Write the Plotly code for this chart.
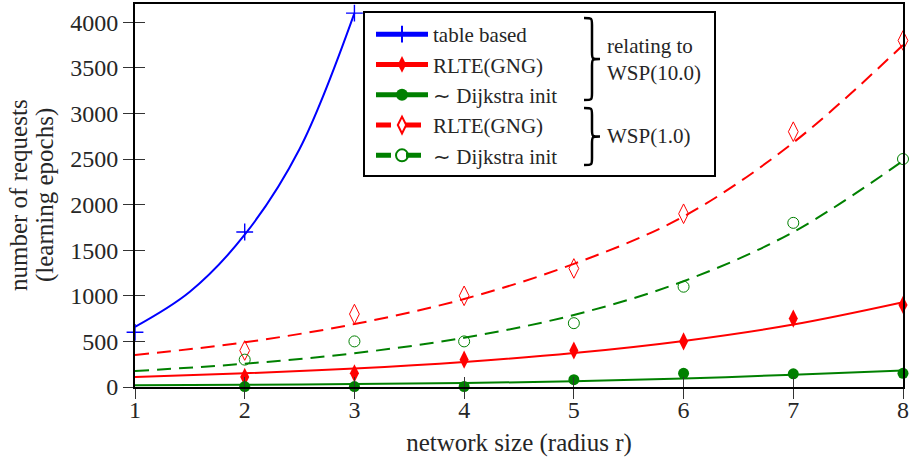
import plotly.graph_objects as go

# ---------------- data ----------------
x_table = [1, 2, 3]
table_based = [600, 1700, 4100]
x_table_fit = [1, 1.5, 2, 2.5, 3]
table_fit = [660, 1045, 1670, 2610, 4100]

x_meas = [2, 3, 4, 5, 6, 7, 8]
rlte_10 = [110, 150, 300, 400, 500, 750, 900]
dijk_10 = [5, 5, 5, 80, 150, 145, 150]
rlte_1 = [400, 800, 1000, 1300, 1900, 2800, 3800]
dijk_1 = [300, 500, 500, 700, 1100, 1800, 2500]

x_fit = [1, 2, 3, 4, 5, 6, 7, 8]
rlte_10_fit = [110, 150, 203, 275, 372, 505, 685, 930]
dijk_10_fit = [18, 24, 32, 44, 62, 92, 135, 180]
rlte_1_fit = [350, 490, 690, 965, 1350, 1870, 2680, 3750]
dijk_1_fit = [175, 255, 370, 540, 790, 1160, 1700, 2480]

x_ticks = [1, 2, 3, 4, 5, 6, 7, 8]
y_ticks = [0, 500, 1000, 1500, 2000, 2500, 3000, 3500, 4000]

legend_names = ["table based", "RLTE(GNG)", "∼ Dijkstra init", "RLTE(GNG)", "∼ Dijkstra init"]

# ---------------- style ----------------
FONT = "Liberation Serif"
TXT = "#262626"
BLUE, RED, GREEN = "#0000ff", "#ff0000", "#008000"
W, H = 914, 461
L, R, T, B = 135, 11, 4, 74
PW, PH = W - L - R, H - T - B


def px2paper(px, py):
    return (px - L) / PW, (H - B - py) / PH


fig = go.Figure()

# fitted curves
fit_specs = [
    (x_table_fit, table_fit, BLUE, "solid"),
    (x_fit, rlte_10_fit, RED, "solid"),
    (x_fit, dijk_10_fit, GREEN, "solid"),
    (x_fit, rlte_1_fit, RED, "14px,8px"),
    (x_fit, dijk_1_fit, GREEN, "14px,8px"),
]
for xs, ys, c, d in fit_specs:
    fig.add_trace(go.Scatter(x=xs, y=ys, mode="lines", showlegend=False, hoverinfo="skip",
                             line=dict(color=c, width=2, dash=d, shape="spline", smoothing=1)))

# measured points
mk_specs = [
    (x_table, table_based, dict(symbol="cross-thin-open", size=12, color=BLUE, line=dict(color=BLUE, width=1.4))),
    (x_meas, rlte_10, dict(symbol="diamond-tall", size=13, color=RED, line=dict(width=0))),
    (x_meas, dijk_10, dict(symbol="circle", size=11, color=GREEN, line=dict(width=0))),
    (x_meas, rlte_1, dict(symbol="diamond-tall-open", size=14, color=RED, line=dict(color=RED, width=1))),
    (x_meas, dijk_1, dict(symbol="circle-open", size=11, color=GREEN, line=dict(color=GREEN, width=1))),
]
for xs, ys, m in mk_specs:
    fig.add_trace(go.Scatter(x=xs, y=ys, mode="markers", marker=m, showlegend=False, cliponaxis=False))

# legend entries
dashes = ["solid", "solid", "solid", "dash", "dash"]
colors = [BLUE, RED, GREEN, RED, GREEN]
for i, (name, c, d) in enumerate(zip(legend_names, colors, dashes)):
    fig.add_trace(go.Scatter(x=[None], y=[None], mode="lines+markers", name=name,
                             legendgroup=f"g{i}",
                             line=dict(color=c, width=2, dash=d),
                             marker=mk_specs[i][2]))

# helper axes for inner half of the ticks
fig.add_trace(go.Scatter(x=[], y=[], xaxis="x2", yaxis="y2", showlegend=False))

axis_common = dict(showgrid=False, zeroline=False, color=TXT,
                   tickfont=dict(family=FONT, size=24, color=TXT))

fig.update_layout(
    width=W, height=H,
    margin=dict(l=L, r=R, t=T, b=B, autoexpand=False),
    paper_bgcolor="white", plot_bgcolor="white",
    font=dict(family=FONT, color=TXT),
    xaxis=dict(range=[1, 8], tickvals=x_ticks, ticks="outside", ticklen=10, tickwidth=1.4,
               tickcolor="#333", showline=True, linewidth=2, linecolor="black", mirror=True,
               ticklabelstandoff=-10,
               title=dict(text="network size (radius r)", font=dict(family=FONT, size=25, color=TXT),
                          standoff=12),
               **axis_common),
    yaxis=dict(range=[0, 4200], tickvals=y_ticks, ticks="outside", ticklen=10, tickwidth=1.4,
               tickcolor="#333", showline=True, linewidth=2, linecolor="black", mirror=True,
               **axis_common),
    xaxis2=dict(range=[1, 8], tickvals=x_ticks, ticks="inside", ticklen=10, tickwidth=1.4,
                tickcolor="#333", showticklabels=False, overlaying="x", anchor="y", side="bottom",
                showgrid=False, zeroline=False, showline=False),
    yaxis2=dict(range=[0, 4200], tickvals=y_ticks, ticks="inside", ticklen=10, tickwidth=1.4,
                tickcolor="#333", showticklabels=False, overlaying="y", anchor="x", side="left",
                showgrid=False, zeroline=False, showline=False),
    showlegend=True,
    legend=dict(x=px2paper(371, 0)[0], y=px2paper(0, 14)[1], xanchor="left", yanchor="top",
                bgcolor="rgba(0,0,0,0)", borderwidth=0, tracegroupgap=0,
                font=dict(family=FONT, size=21, color=TXT), itemwidth=52, itemsizing="constant"),
)

# legend frame
x0, y0 = px2paper(364, 176)
x1, y1 = px2paper(715, 12)
fig.add_shape(type="rect", xref="paper", yref="paper", x0=x0, y0=y0, x1=x1, y1=y1,
              line=dict(color="black", width=2), fillcolor="white", layer="below")


def brace(px, top, bot, w):
    mid = (top + bot) / 2
    r = 7
    xm = px + w / 2
    path = (f"M {px},{top} C {xm},{top} {xm},{top} {xm},{top + r} "
            f"L {xm},{mid - r} C {xm},{mid} {xm},{mid} {px + w},{mid} "
            f"C {xm},{mid} {xm},{mid} {xm},{mid + r} "
            f"L {xm},{bot - r} C {xm},{bot} {xm},{bot} {px},{bot}")
    out = []
    for t in path.split():
        if "," in t:
            a, b = t.split(",")
            xa, yb = px2paper(float(a), float(b))
            out.append(f"{xa:.5f},{yb:.5f}")
        else:
            out.append(t)
    return " ".join(out)


fig.add_shape(type="path", xref="paper", yref="paper", path=brace(584, 18, 100, 16),
              line=dict(color="black", width=2.5))
fig.add_shape(type="path", xref="paper", yref="paper", path=brace(584, 108, 165, 16),
              line=dict(color="black", width=2.5))

for txt, py in [("relating to<br>WSP(10.0)", 59), ("WSP(1.0)", 136)]:
    ax, ay = px2paper(605, py)
    fig.add_annotation(x=ax, y=ay, xref="paper", yref="paper", text=txt, showarrow=False,
                       xanchor="left", yanchor="middle", align="left",
                       font=dict(family=FONT, size=21, color=TXT))

# y-axis title, two lines
for txt, px in [("number of requests", 18), ("(learning epochs)", 45)]:
    ax, ay = px2paper(px, 195)
    fig.add_annotation(x=ax, y=ay, xref="paper", yref="paper", text=txt, showarrow=False,
                       textangle=-90, xanchor="center", yanchor="middle",
                       font=dict(family=FONT, size=25, color=TXT))

fig.write_html("out.html", config={"displayModeBar": False},
               post_script="document.body.style.margin='0px';")
